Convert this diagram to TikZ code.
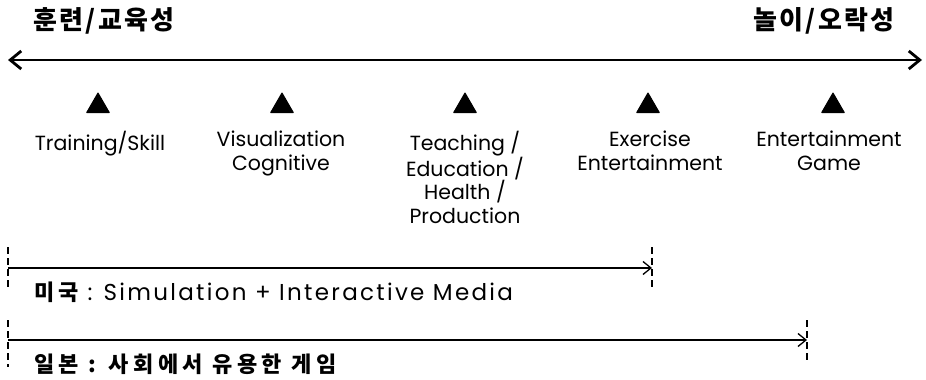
\documentclass[tikz,border=0pt]{standalone}
\usepackage{fontspec}
\setmainfont{Poppins}
\newfontfamily\latwide[LetterSpace=10]{Poppins}
\newfontfamily\krtitle[LetterSpace=9]{Noto Sans CJK KR}
\newfontfamily\krbody[LetterSpace=20]{Noto Sans CJK KR}
\usetikzlibrary{arrows.meta,shapes.geometric}
\begin{document}
\begin{tikzpicture}[x=1pt,y=-1pt,
  tri/.style={regular polygon, regular polygon sides=3, fill=black, draw=black,
    line width=1pt, line join=round, inner sep=0pt, minimum size=26pt},
  lbl/.style={anchor=north, inner sep=0pt, align=center,
    font=\fontsize{20.5}{23.5}\selectfont},
  ttl/.style={inner sep=0pt, font=\krtitle\bfseries\fontsize{26}{30}\selectfont},
  btxt/.style={anchor=west, inner sep=0pt, font=\latwide\fontsize{23}{26}\selectfont},
  bigarrow/.style={line width=2.8pt, {Straight Barb[length=11pt,width=18pt]}-{Straight Barb[length=11pt,width=18pt]}},
  spanarrow/.style={line width=1.3pt, -{Straight Barb[length=8pt,width=13pt]}},
  tick/.style={line width=1.5pt, dash pattern=on 7pt off 4pt}]
\useasboundingbox (0,0) rectangle (926,380);

% titles
\node[ttl, anchor=west] (tl) at (33,21) {훈련/교육성};
\node[ttl, anchor=east] (tr) at (895,21) {놀이/오락성};

% main double arrow
\coordinate (aL) at (8,60);
\coordinate (aR) at (922,60);
\draw[bigarrow] (aL) -- (aR);

% triangles
\node[tri] (t1) at (98,106) {};
\node[tri] (t2) at (282,106) {};
\node[tri] (t3) at (465,106) {};
\node[tri] (t4) at (648,106) {};
\node[tri] (t5) at (833,106) {};

% labels
\node[lbl] (l1) at (100,131) {Training/Skill};
\node[lbl] (l2) at (281,131) {Visualization\\Cognitive};
\node[lbl] (l3) at (465,131) {Teaching /\\Education /\\Health /\\Production};
\node[lbl] (l4) at (650,131) {Exercise\\Entertainment};
\node[lbl] (l5) at (829,131) {Entertainment\\Game};

% USA span
\coordinate (uS) at (8,268);
\coordinate (uE) at (652,268);
\coordinate (uLt) at (8,247);
\coordinate (uLb) at (8,287);
\coordinate (uRt) at (652,247);
\coordinate (uRb) at (652,287);
\draw[tick] (uLt) -- (uLb);
\draw[tick] (uRt) -- (uRb);
\draw[spanarrow] (uS) -- (uE);
\node[btxt] (us) at (34,292) {{\krbody\bfseries\fontsize{22}{26}\selectfont 미국} : Simulation + Interactive Media};

% Japan span
\coordinate (jS) at (8,340);
\coordinate (jE) at (807,340);
\coordinate (jLt) at (8,320);
\coordinate (jLb) at (8,367);
\coordinate (jRt) at (807,320);
\coordinate (jRb) at (807,360);
\draw[tick] (jLt) -- (jLb);
\draw[tick] (jRt) -- (jRb);
\draw[spanarrow] (jS) -- (jE);
\node[btxt] (jp) at (34,364) {\krbody\bfseries\fontsize{22}{26}\selectfont 일본 : 사회에서 유용한 게임};
\end{tikzpicture}
\end{document}
